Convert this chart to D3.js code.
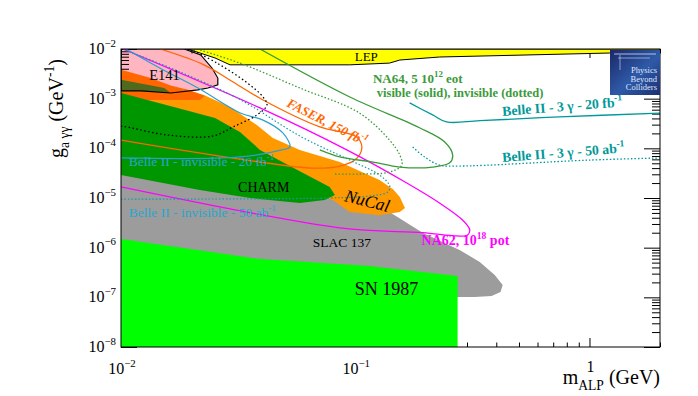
<!DOCTYPE html>
<html>
<head>
<meta charset="utf-8">
<script src="https://cdn.jsdelivr.net/npm/d3@7"></script>
<style>
  html, body { margin: 0; padding: 0; background: #fff; }
  svg { display: block; font-family: "Liberation Serif", "Times New Roman", serif; }
</style>
</head>
<body>
<svg id="chart" width="698" height="396"></svg>
<script>
'use strict';

// axis ranges (GeV, GeV^-1)
var massRange = [0.01, 2];
var couplingRange = [1e-8, 1e-2];

// labelled decades
var xLabelTicks = [0.01, 0.1, 1];
var xLabelExp = ['\u22122', '\u22121', ''];
var yLabelTicks = [1e-8, 1e-7, 1e-6, 1e-5, 1e-4, 1e-3, 1e-2];
var yLabelExp = ['\u22128', '\u22127', '\u22126', '\u22125', '\u22124', '\u22123', '\u22122'];

// filled exclusion regions, [m_ALP, g_agg]
var lepRegion = [[0.0191, 1e-2], [2.0, 1e-2], [2.0, 8.7e-3], [1.22, 8.3e-3], [0.229, 6.9e-3],
  [0.155, 6.0e-3], [0.140, 5.2e-3], [0.0948, 4.8e-3], [0.0292, 4.8e-3], [0.0252, 6.6e-3], [0.0211, 8.7e-3]];
var e141Region = [[0.01, 1e-2], [0.0186, 1e-2], [0.0219, 7.6e-3], [0.0245, 4.1e-3], [0.0259, 2.6e-3],
  [0.0259, 1.9e-3], [0.0235, 1.64e-3], [0.0213, 1.5e-3], [0.0163, 1.3e-3], [0.0122, 1.43e-3], [0.01, 1.43e-3]];
var redOrangeRegion = [[0.01, 3.8e-3], [0.0133, 2.65e-3], [0.0163, 1.85e-3], [0.0195, 1.5e-3],
  [0.0228, 1.13e-3], [0.0217, 9.4e-4], [0.01, 9.4e-4]];
var nucalRegion = [[0.0186, 1.57e-3], [0.0226, 1.19e-3], [0.0292, 6.8e-4], [0.0380, 2.95e-4],
  [0.0445, 1.61e-4], [0.058, 9.3e-5], [0.0859, 5.3e-5], [0.127, 2.3e-5], [0.145, 1.5e-5], [0.155, 1.05e-5],
  [0.163, 6.3e-6], [0.155, 5.2e-6], [0.127, 4.5e-6], [0.0948, 5.2e-6], [0.0802, 9.1e-6], [0.058, 1.45e-5],
  [0.01, 9.3e-5], [0.01, 1.5e-3]];
var olivePatch = [[0.01, 2.4e-3], [0.0153, 1.64e-3], [0.0163, 1.3e-3], [0.0122, 1.43e-3], [0.01, 1.43e-3]];
var charmRegion = [[0.01, 1.3e-3], [0.0162, 7.1e-4], [0.0252, 4.1e-4], [0.0322, 2.13e-4], [0.0392, 9.3e-5],
  [0.0564, 3.7e-5], [0.0778, 1.67e-5], [0.0819, 1.15e-5], [0.0741, 9.1e-6], [0.058, 7.9e-6],
  [0.0355, 1.0e-5], [0.0217, 1.45e-5], [0.01, 2.9e-5]];
var slacRegion = [[0.01, 5.8e-5], [0.058, 1.83e-5], [0.140, 5.2e-6], [0.194, 2.0e-6], [0.279, 9.0e-7],
  [0.340, 5.15e-7], [0.394, 2.8e-7], [0.426, 1.77e-7], [0.417, 1.28e-7], [0.382, 1.06e-7],
  [0.3234, 1.02e-7], [0.01, 1.02e-7]];
var snRegion = [[0.01, 1.5e-6], [0.0392, 5.9e-7], [0.112, 4.3e-7], [0.2735, 2.7e-7], [0.2735, 1e-8], [0.01, 1e-8]];

// projected sensitivity contours
var faserLine = [[0.0147, 1e-2], [0.0226, 4.8e-3], [0.0295, 2.3e-3], [0.0404, 9.4e-4], [0.0706, 2.7e-4],
  [0.1014, 1.69e-4], [0.1067, 1.02e-4], [0.0996, 5.8e-5], [0.0859, 4.4e-5], [0.0659, 4.0e-5], [0.01, 1.47e-4]];
var na62Line = [[0.0102, 1e-2], [0.0392, 6.5e-4], [0.092, 9.3e-5], [0.166, 2.0e-5], [0.229, 7.9e-6],
  [0.287, 3.6e-6], [0.308, 2.3e-6], [0.302, 1.8e-6], [0.271, 1.72e-6], [0.194, 2.0e-6], [0.0859, 2.5e-6],
  [0.01, 1.67e-5]];
var belle3g20Line = [[0.1707, 8.2e-4], [0.214, 4.7e-4], [0.2456, 3.4e-4], [0.34, 3.6e-4], [0.745, 4.3e-4], [2.0, 5.1e-4]];
var belle3g50Line = [[0.176, 1.06e-4], [0.198, 6.7e-5], [0.229, 4.6e-5], [0.279, 4.4e-5], [1.0, 5.8e-5], [2.0, 6.4e-5]];
var belleInv20Line = [[0.01, 6.4e-5], [0.0322, 6.7e-5], [0.0486, 9.3e-5], [0.0526, 1.06e-4], [0.0491, 2.04e-4],
  [0.0404, 3.7e-4], [0.0325, 5.1e-4], [0.0213, 1.64e-3], [0.0147, 4.1e-3], [0.0105, 1e-2]];
var belleInv50Line = [[0.01, 9.5e-6], [0.0778, 1.0e-5], [0.1153, 1.1e-5], [0.1377, 1.32e-5], [0.1403, 1.75e-5],
  [0.127, 2.9e-5], [0.0948, 5.8e-5], [0.058, 1.77e-4], [0.0325, 9.4e-4], [0.0179, 3.44e-3], [0.0104, 9.55e-3]];
var na64VisLine = [[0.0392, 1e-2], [0.0948, 1.08e-3], [0.188, 2.6e-4], [0.241, 1.34e-4], [0.2606, 7.3e-5],
  [0.2531, 5.1e-5], [0.214, 4.2e-5], [0.155, 4.2e-5], [0.119, 5.3e-5], [0.0859, 6.7e-5], [0.0706, 9.3e-5]];
var na64InvLine = [[0.0211, 1e-2], [0.0322, 5.2e-3], [0.058, 1.64e-3], [0.1045, 5.1e-4], [0.140, 1.47e-4],
  [0.155, 7.3e-5], [0.158, 4.6e-5], [0.140, 3.33e-5], [0.1045, 3.04e-5], [0.0819, 3.04e-5]];
var blackDotLine = [[0.0197, 1e-2], [0.0257, 5.2e-3], [0.0345, 2.1e-3], [0.0404, 1.08e-3], [0.0420, 7.5e-4],
  [0.0380, 4.7e-4], [0.0301, 2.7e-4], [0.0247, 1.77e-4], [0.0157, 1.86e-4], [0.0106, 2.7e-4], [0.01, 2.8e-4]];

var svg = d3.select('#chart');
var plot = { left: 121, right: 660, top: 49, bottom: 347 };

var x = d3.scaleLog().domain(massRange).range([plot.left, plot.right]);
var y = d3.scaleLog().domain(couplingRange).range([plot.bottom, plot.top]);

function isDecade(v) {
  var l = Math.log10(v);
  return Math.abs(l - Math.round(l)) < 1e-6;
}

var area = d3.line().x(function(d) { return x(d[0]); }).y(function(d) { return y(d[1]); })
  .curve(d3.curveLinearClosed);
var curve = d3.line().x(function(d) { return x(d[0]); }).y(function(d) { return y(d[1]); })
  .curve(d3.curveCatmullRom.alpha(0.5));

svg.append('defs').append('clipPath').attr('id', 'frame')
  .append('rect')
  .attr('x', plot.left).attr('y', plot.top)
  .attr('width', plot.right - plot.left).attr('height', plot.bottom - plot.top);

var under = svg.append('g').attr('clip-path', 'url(#frame)');
under.append('path').attr('d', area(e141Region)).attr('fill', '#ffb6c1');

// ticks, all pointing inwards (ROOT style)
function drawTicks(gen, transform, values, size) {
  svg.append('g').attr('transform', transform)
    .call(gen.tickValues(values).tickSize(size).tickSizeOuter(0).tickFormat(''))
    .call(function(g) { g.select('.domain').remove(); })
    .selectAll('line').attr('stroke', '#000').attr('stroke-width', 1);
}
var xAll = x.ticks(), yAll = y.ticks();
var xMajor = xAll.filter(isDecade), xMinor = xAll.filter(function(v) { return !isDecade(v); });
var yMajor = yAll.filter(isDecade), yMinor = yAll.filter(function(v) { return !isDecade(v); });

drawTicks(d3.axisBottom(x), 'translate(0,' + plot.bottom + ')', xMajor, -9);
drawTicks(d3.axisBottom(x), 'translate(0,' + plot.bottom + ')', xMinor, -4.5);
drawTicks(d3.axisTop(x), 'translate(0,' + plot.top + ')', xMajor, -9);
drawTicks(d3.axisTop(x), 'translate(0,' + plot.top + ')', xMinor, -4.5);
drawTicks(d3.axisLeft(y), 'translate(' + plot.left + ',0)', yMajor, -16);
drawTicks(d3.axisLeft(y), 'translate(' + plot.left + ',0)', yMinor, -8);
drawTicks(d3.axisRight(y), 'translate(' + plot.right + ',0)', yMajor, -16);
drawTicks(d3.axisRight(y), 'translate(' + plot.right + ',0)', yMinor, -8);

var fills = svg.append('g').attr('clip-path', 'url(#frame)');
fills.append('path').attr('d', area(lepRegion)).attr('fill', '#ffff00')
  .attr('stroke', '#000').attr('stroke-width', 1);
fills.append('path').attr('d', area(slacRegion)).attr('fill', '#9c9c9c');
fills.append('path').attr('d', area(nucalRegion)).attr('fill', '#ff9900');
fills.append('path').attr('d', area(redOrangeRegion)).attr('fill', '#ff6600');
fills.append('path').attr('d', area(olivePatch)).attr('fill', '#4f6a1c');
fills.append('path').attr('d', area(charmRegion)).attr('fill', '#009600');
fills.append('path').attr('d', area(snRegion)).attr('fill', '#00ff00');

// contour lines on top of the filled regions
var lines = svg.append('g').attr('clip-path', 'url(#frame)').attr('fill', 'none');
lines.append('path').attr('d', area(e141Region)).attr('stroke', '#000').attr('stroke-width', 1.2);
lines.append('path').attr('d', curve(faserLine)).attr('stroke', '#ff6600').attr('stroke-width', 1.3);
lines.append('path').attr('d', curve(na62Line)).attr('stroke', '#ff00ff').attr('stroke-width', 1.3);
lines.append('path').attr('d', curve(belleInv20Line)).attr('stroke', '#2a9fd0').attr('stroke-width', 1.2);
lines.append('path').attr('d', curve(belleInv50Line)).attr('stroke', '#149aa8').attr('stroke-width', 1.2)
  .attr('stroke-dasharray', '1.5,2');
lines.append('path').attr('d', curve(belle3g20Line)).attr('stroke', '#009999').attr('stroke-width', 1.3);
lines.append('path').attr('d', curve(belle3g50Line)).attr('stroke', '#009999').attr('stroke-width', 1.3)
  .attr('stroke-dasharray', '1.5,2');
lines.append('path').attr('d', curve(na64VisLine)).attr('stroke', '#3a9a3a').attr('stroke-width', 1.3);
lines.append('path').attr('d', curve(na64InvLine)).attr('stroke', '#3a9a3a').attr('stroke-width', 1.3)
  .attr('stroke-dasharray', '1.5,2');
lines.append('path').attr('d', curve(blackDotLine)).attr('stroke', '#000').attr('stroke-width', 1.3)
  .attr('stroke-dasharray', '1.5,2.5');

svg.append('rect')
  .attr('x', plot.left).attr('y', plot.top)
  .attr('width', plot.right - plot.left).attr('height', plot.bottom - plot.top)
  .attr('fill', 'none').attr('stroke', '#000').attr('stroke-width', 1);

/**
 * Appends a text with super/subscript parts.
 * parts: [[string, 'sup'|'sub'|undefined], ...]
 */
function richText(parent, parts, attrs) {
  var t = parent.append('text');
  Object.keys(attrs).forEach(function(k) { t.attr(k, attrs[k]); });
  var shift = 0;
  parts.forEach(function(p) {
    var target = p[1] === 'sup' ? -0.45 : p[1] === 'sub' ? 0.3 : 0;
    var span = t.append('tspan').text(p[0]);
    span.attr('dy', (target - shift) + 'em');
    if (p[1]) { span.attr('font-size', '0.68em'); span.attr('dy', ((target - shift) / 0.68) + 'em'); }
    shift = target;
  });
  return t;
}

// region labels, anchored in data coordinates
function label(m, g, parts, attrs, angle) {
  var px = x(m), py = y(g);
  var a = Object.assign({ x: px, y: py }, attrs);
  if (angle) { a.transform = 'rotate(' + angle + ',' + px + ',' + py + ')'; }
  return richText(svg, parts, a);
}

label(0.0995, 5.7e-3, [['LEP']], { 'font-size': 13 });
label(0.0132, 2.4e-3, [['E141']], { 'font-size': 14.5 });
label(0.0506, 7.1e-4, [['FASER, 150 fb'], ['-1', 'sup']],
  { 'font-size': 13, 'font-weight': 'bold', 'font-style': 'italic', fill: '#ff6600' }, 27);
label(0.119, 2.1e-3, [['NA64, 5 10'], ['12', 'sup'], [' eot']],
  { 'font-size': 13, 'font-weight': 'bold', fill: '#3a9a3a' });
label(0.1236, 1.08e-3, [['visible (solid), invisible (dotted)']],
  { 'font-size': 12.5, 'font-weight': 'bold', fill: '#3a9a3a' });
label(0.4256, 4.5e-4, [['Belle II - 3 \u03b3 - 20 fb'], ['-1', 'sup']],
  { 'font-size': 13.8, 'font-weight': 'bold', fill: '#009999' }, -4.5);
label(0.4256, 5.3e-5, [['Belle II - 3 \u03b3 - 50 ab'], ['-1', 'sup']],
  { 'font-size': 13.8, 'font-weight': 'bold', fill: '#009999' }, -4.5);
label(0.0108, 4.4e-5, [['Belle II - invisible - 20 fb'], ['-1', 'sup']],
  { 'font-size': 13.5, fill: '#2aa6cc' });
label(0.0108, 4.15e-6, [['Belle II - invisible - 50 ab'], ['-1', 'sup']],
  { 'font-size': 13.5, fill: '#2aa6cc' });
label(0.0316, 1.32e-5, [['CHARM']], { 'font-size': 14 });
label(0.0893, 8.7e-6, [['NuCal']], { 'font-size': 17.5, 'font-style': 'italic' }, 14);
label(0.0659, 1.03e-6, [['SLAC 137']], { 'font-size': 13.5 });
label(0.0996, 1.11e-7, [['SN 1987']], { 'font-size': 18 });
label(0.192, 1.13e-6, [['NA62, 10'], ['18', 'sup'], [' pot']],
  { 'font-size': 14, 'font-weight': 'bold', fill: '#ff00ff' });

// tick labels
xLabelTicks.forEach(function(v, i) {
  var parts = xLabelExp[i] ? [['10'], [xLabelExp[i], 'sup']] : [['1']];
  richText(svg, parts, { x: x(v) + 1, y: xLabelExp[i] ? 374 : 372, 'text-anchor': 'middle', 'font-size': 16 });
});
yLabelTicks.forEach(function(v, i) {
  richText(svg, [['10'], [yLabelExp[i], 'sup']],
    { x: plot.left - 5, y: y(v) + 5, 'text-anchor': 'end', 'font-size': 16 });
});

// axis titles
richText(svg, [['m'], ['ALP', 'sub'], [' (GeV)']],
  { x: plot.right, y: 384, 'text-anchor': 'end', 'font-size': 20 });
var yTitle = svg.append('g').attr('transform', 'translate(63,158) rotate(-90)');
richText(yTitle, [['g'], ['a \u03b3\u03b3', 'sub'], [' (GeV'], ['-1', 'sup'], [')']],
  { x: 0, y: 0, 'font-size': 20 });

// Physics Beyond Colliders badge, top right corner
var grad = svg.select('defs').append('linearGradient').attr('id', 'pbc')
  .attr('x1', 0).attr('y1', 0).attr('x2', 1).attr('y2', 1);
grad.append('stop').attr('offset', 0).attr('stop-color', '#1a2766');
grad.append('stop').attr('offset', 0.55).attr('stop-color', '#2f5aa8');
grad.append('stop').attr('offset', 1).attr('stop-color', '#1b2f70');
var badge = svg.append('g').attr('transform', 'translate(' + (plot.right - 50) + ',' + (plot.top + 1) + ')');
badge.append('rect').attr('width', 50).attr('height', 45).attr('fill', 'url(#pbc)');
badge.append('line').attr('x1', 4).attr('y1', 4).attr('x2', 46).attr('y2', 4)
  .attr('stroke', '#cfe0ff').attr('stroke-width', 0.8);
badge.append('line').attr('x1', 8).attr('y1', 8).attr('x2', 40).attr('y2', 8)
  .attr('stroke', '#cfe0ff').attr('stroke-width', 0.6);
badge.append('line').attr('x1', 10).attr('y1', 5).attr('x2', 10).attr('y2', 20)
  .attr('stroke', '#cfe0ff').attr('stroke-width', 0.6);
['Physics', 'Beyond', 'Colliders'].forEach(function(s, i) {
  badge.append('text').attr('x', 47).attr('y', 23 + i * 8.5).attr('text-anchor', 'end')
    .attr('font-size', 8.5).attr('fill', '#dfe8ff').text(s);
});
</script>
</body>
</html>
